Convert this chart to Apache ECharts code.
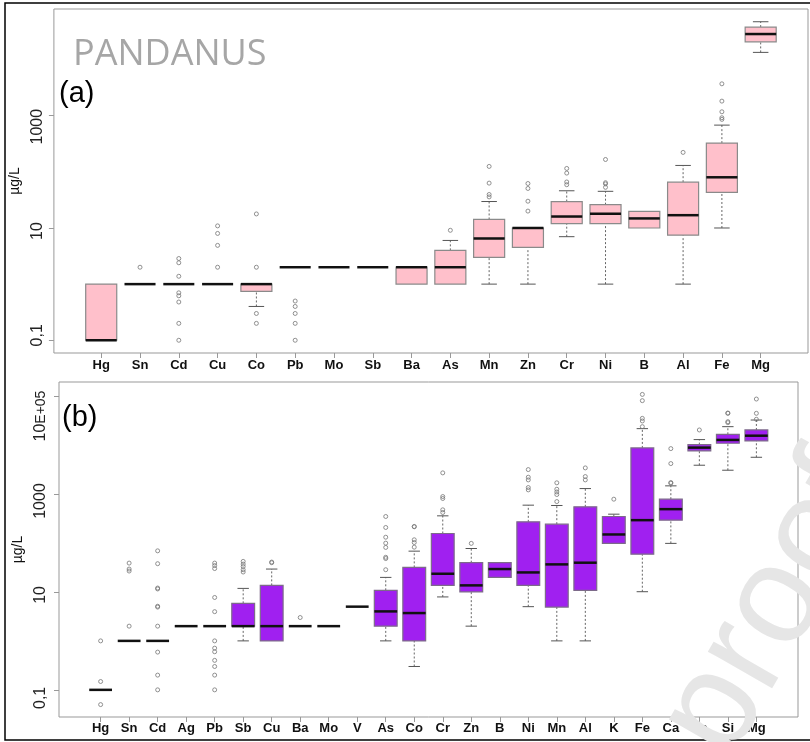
<!DOCTYPE html>
<html>
<head>
<meta charset="UTF-8">
<script type="text/javascript" src="https://cdn.jsdelivr.net/npm/echarts@6.0.0/dist/echarts.min.js"></script>
<style>
  html, body { margin: 0; padding: 0; background: #fff; }
  #chartmain { width: 810px; height: 742px; }
</style>
</head>
<body>
<div id="chartmain"></div>
<script type="text/javascript">
// panel (a) - PANDANUS, values in µg/L
var catsA = ['Hg','Sn','Cd','Cu','Co','Pb','Mo','Sb','Ba','As','Mn','Zn','Cr','Ni','B','Al','Fe','Mg'];
// [min, Q1, median, Q3, max] of each box
var boxesA = [
  [0.1, 0.1, 0.1, 1, 1],
  [1, 1, 1, 1, 1],
  [1, 1, 1, 1, 1],
  [1, 1, 1, 1, 1],
  [0.4, 0.74, 1, 1, 1],
  [2, 2, 2, 2, 2],
  [2, 2, 2, 2, 2],
  [2, 2, 2, 2, 2],
  [1, 1, 2, 2, 2],
  [1, 1, 2, 4, 6],
  [1, 3, 6.5, 14.2, 29.6],
  [1, 4.5, 10, 10, 10],
  [7, 12, 16, 29.6, 46],
  [1, 12, 18, 26, 45],
  [10, 10, 14.8, 19.7, 19.7],
  [1, 7.45, 16.9, 65.5, 130],
  [10, 43, 80, 325, 680],
  [13430, 20750, 28500, 37900, 47200]
];
var outliersA = [
  [],
  [2],
  [2.86, 2.4, 1.38, 0.7, 0.62, 0.48, 0.2, 0.1],
  [10.9, 8, 4.9, 2],
  [17.8, 2, 0.3, 0.2],
  [0.5, 0.4, 0.3, 0.2, 0.1],
  [],
  [],
  [],
  [9.1],
  [125, 63, 39.5, 35.8],
  [62, 50.6, 30, 20],
  [115, 95, 66, 59],
  [166, 64, 61, 53],
  [],
  [222],
  [3700, 1820, 1175, 920, 860],
  []
];
var yTicksA = [0.1, 10, 1000];
var yLabelsA = ['0,1', '10', '1000'];

// panel (b)
var catsB = ['Hg','Sn','Cd','Ag','Pb','Sb','Cu','Ba','Mo','V','As','Co','Cr','Zn','B','Ni','Mn','Al','K','Fe','Ca','Na','Si','Mg'];
var boxesB = [
  [0.1, 0.1, 0.1, 0.1, 0.1],
  [1, 1, 1, 1, 1],
  [1, 1, 1, 1, 1],
  [2, 2, 2, 2, 2],
  [2, 2, 2, 2, 2],
  [1, 2, 2, 5.85, 11.8],
  [1, 1, 2, 13.6, 29.3],
  [2, 2, 2, 2, 2],
  [2, 2, 2, 2, 2],
  [5, 5, 5, 5, 5],
  [1, 2, 4, 10.8, 19.8],
  [0.3, 1, 3.7, 31.7, 68],
  [7.9, 13.6, 23.5, 156, 358],
  [2, 10, 13.6, 39.5, 77],
  [19.8, 19.8, 29.3, 39.5, 39.5],
  [5, 13.6, 25, 270, 591],
  [1, 4.9, 36.5, 242, 582],
  [1, 10.8, 39.5, 547, 1290],
  [98, 98, 149, 347, 387],
  [10.1, 59, 292, 8730, 21600],
  [98, 292, 490, 783, 1466],
  [3865, 7570, 8850, 10200, 12900],
  [3055, 10860, 12700, 16560, 23700],
  [5620, 12100, 15500, 20300, 32400]
];
var outliersB = [
  [1, 0.148, 0.05],
  [38.8, 29.3, 26.7, 2],
  [69, 37.7, 12, 11.5, 5.1, 4.9, 2, 0.59, 0.2, 0.1],
  [],
  [38.8, 34.5, 30, 7.7, 3.95, 1, 0.71, 0.6, 0.4, 0.3, 0.2, 0.1],
  [42, 37, 33, 28.4, 25.5],
  [40.7, 39.5],
  [3],
  [],
  [],
  [347, 207, 131, 99, 81, 51, 48, 28.4],
  [217, 214, 116, 102, 82],
  [2700, 887, 809, 475, 419],
  [98],
  [],
  [3150, 2200, 1940, 1355, 1214],
  [1690, 1250, 1100, 975, 700],
  [3410, 2270, 1940],
  [783],
  [108000, 80500, 35000, 31000, 23700],
  [8450, 4180, 1713, 1660],
  [20300],
  [45000, 44400, 30000, 28600],
  [86900, 44400, 33500]
];
var yTicksB = [0.1, 10, 1000, 100000];
var yLabelsB = ['0,1', '10', '1000', '10E+05'];

function boxData(boxes) {
  var out = [];
  for (var i = 0; i < boxes.length; i++) {
    out.push([i + 1].concat(boxes[i]));
  }
  return out;
}
function outlierData(outs) {
  var out = [];
  for (var i = 0; i < outs.length; i++) {
    for (var j = 0; j < outs[i].length; j++) out.push([i + 1, outs[i][j]]);
  }
  return out;
}
function seq(n) { var a = []; for (var i = 1; i <= n; i++) a.push(i); return a; }

// R style box: dashed whiskers, staples, filled box, thick median
function makeBox(fill, border) {
  return function (params, api) {
    var x = api.value(0);
    var v = [api.value(1), api.value(2), api.value(3), api.value(4), api.value(5)];
    var y = v.map(function (d) { return api.coord([x, d])[1]; });
    var cx = api.coord([x, v[2]])[0];
    var l = api.coord([x - 0.4, v[2]])[0], r = api.coord([x + 0.4, v[2]])[0];
    var sl = api.coord([x - 0.2, v[2]])[0], sr = api.coord([x + 0.2, v[2]])[0];
    var dash = { stroke: '#666', lineWidth: 1, lineDash: [2, 2] };
    var solid = { stroke: '#555', lineWidth: 1 };
    var ch = [];
    if (v[0] < v[1]) {
      ch.push({ type: 'line', shape: { x1: cx, y1: y[0], x2: cx, y2: y[1] }, style: dash });
      ch.push({ type: 'line', shape: { x1: sl, y1: y[0], x2: sr, y2: y[0] }, style: solid });
    }
    if (v[4] > v[3]) {
      ch.push({ type: 'line', shape: { x1: cx, y1: y[3], x2: cx, y2: y[4] }, style: dash });
      ch.push({ type: 'line', shape: { x1: sl, y1: y[4], x2: sr, y2: y[4] }, style: solid });
    }
    if (v[3] > v[1]) {
      ch.push({ type: 'rect', shape: { x: l, y: y[3], width: r - l, height: y[1] - y[3] },
        style: { fill: fill, stroke: border, lineWidth: 1.2 } });
    }
    ch.push({ type: 'line', shape: { x1: l, y1: y[2], x2: r, y2: y[2] }, style: { stroke: '#111', lineWidth: 2.5 } });
    return { type: 'group', children: ch };
  };
}

var frame = '#999';
var font = '"Liberation Sans", Arial, sans-serif';

function xAxisOf(idx, cats, lo, hi, margin) {
  return {
    type: 'value', gridIndex: idx, min: lo, max: hi,
    axisLine: { show: false, onZero: false },
    splitLine: { show: false },
    axisTick: { show: true, length: 5, customValues: seq(cats.length), lineStyle: { color: frame } },
    axisLabel: {
      customValues: seq(cats.length), margin: margin,
      fontFamily: font, fontWeight: 'bold', fontSize: 13, color: '#111',
      formatter: function (v) { return cats[Math.round(v) - 1]; }
    }
  };
}
// shift: px each label sits off its tick along the axis (+ = downwards)
function yAxisOf(idx, lo, hi, ticks, labels, shift, margin, gap, fs) {
  var rich = {};
  var formatter = function (v) {
    var k = 0;
    for (var i = 0; i < ticks.length; i++) {
      if (Math.abs(Math.log(v / ticks[i])) < 1e-6) k = i;
    }
    var txt = labels[k];
    var m = txt.match(/^(\d+)(E.*)$/);
    if (m) return '{n' + k + '|' + m[1] + '}{e' + k + '|' + m[2] + '}';
    return '{n' + k + '|' + txt + '}';
  };
  for (var k = 0; k < ticks.length; k++) {
    var s = shift[k] || 0;
    var pad = s > 0 ? [0, 2 * s, 0, 0] : [0, 0, 0, -2 * s];
    var isExp = /E/.test(labels[k]);
    rich['n' + k] = { fontFamily: font, fontSize: fs, color: '#222', padding: isExp ? [0, 0, 0, 0] : pad };
    rich['e' + k] = { fontFamily: font, fontSize: fs - 2, color: '#222', padding: pad };
  }
  return {
    type: 'log', logBase: 10, gridIndex: idx, min: lo, max: hi,
    name: 'µg/L', nameLocation: 'middle', nameGap: gap, nameRotate: 90,
    nameTextStyle: { fontFamily: font, fontSize: 14, color: '#111' },
    axisLine: { show: false, onZero: false },
    splitLine: { show: false },
    minorTick: { show: false },
    axisTick: { show: true, length: 5, customValues: ticks, lineStyle: { color: frame } },
    axisLabel: {
      customValues: ticks, rotate: 90, margin: margin,
      fontFamily: font, fontSize: fs, color: '#222',
      formatter: formatter, rich: rich
    }
  };
}

var option = {
  animation: false,
  backgroundColor: '#fff',
  grid: [
    { left: 53, top: 9, width: 755, height: 344, show: true, borderColor: frame, borderWidth: 1 },
    { left: 59, top: 382, width: 739, height: 335, show: true, borderColor: frame, borderWidth: 1 }
  ],
  xAxis: [
    xAxisOf(0, catsA, -0.22, 19.22, 6),
    xAxisOf(1, catsB, -0.46, 25.46, 5)
  ],
  yAxis: [
    yAxisOf(0, 0.0593, 79600, yTicksA, yLabelsA, [-5, 3, 11], 8, 27, 16),
    yAxisOf(1, 0.0279, 193600, yTicksB, yLabelsB, [8, 3, 7, 20], 10, 26, 16)
  ],
  series: [
    {
      type: 'custom', xAxisIndex: 0, yAxisIndex: 0,
      renderItem: makeBox('#ffc0cb', '#8a8a8a'),
      encode: { x: 0, y: [1, 2, 3, 4, 5] },
      data: boxData(boxesA)
    },
    {
      type: 'scatter', xAxisIndex: 0, yAxisIndex: 0,
      symbol: 'circle', symbolSize: 4,
      itemStyle: { color: 'rgba(255,255,255,0)', borderColor: '#777', borderWidth: 1 },
      data: outlierData(outliersA)
    },
    {
      type: 'custom', xAxisIndex: 1, yAxisIndex: 1,
      renderItem: makeBox('#a020f0', '#7d6a8a'),
      encode: { x: 0, y: [1, 2, 3, 4, 5] },
      data: boxData(boxesB)
    },
    {
      type: 'scatter', xAxisIndex: 1, yAxisIndex: 1,
      symbol: 'circle', symbolSize: 4,
      itemStyle: { color: 'rgba(255,255,255,0)', borderColor: '#777', borderWidth: 1 },
      data: outlierData(outliersB)
    }
  ],
  graphic: [
    { type: 'rect', z: 90, silent: true, shape: { x: 5, y: 3, width: 810, height: 737 },
      style: { fill: 'none', stroke: '#000', lineWidth: 1.5 } },
    { type: 'text', z: 90, x: 73, y: 37,
      style: { text: 'PANDANUS', fontFamily: '"Open Sans", "Noto Sans", sans-serif', fontSize: 36, fill: '#a6a6a6' } },
    { type: 'text', z: 90, x: 59, y: 79,
      style: { text: '(a)', fontFamily: font, fontSize: 29, fill: '#000' } },
    { type: 'text', z: 90, x: 62, y: 403,
      style: { text: '(b)', fontFamily: font, fontSize: 29, fill: '#000' } },
    { type: 'text', z: 100, x: 695, y: 745, rotation: Math.PI / 3,
      style: { text: 'proof', fontFamily: font, fontSize: 140, fill: '#e6e6e6',
        textAlign: 'left', textVerticalAlign: 'middle' } }
  ]
};

var myChart = echarts.init(document.getElementById('chartmain'));
myChart.setOption(option);
</script>
</body>
</html>
